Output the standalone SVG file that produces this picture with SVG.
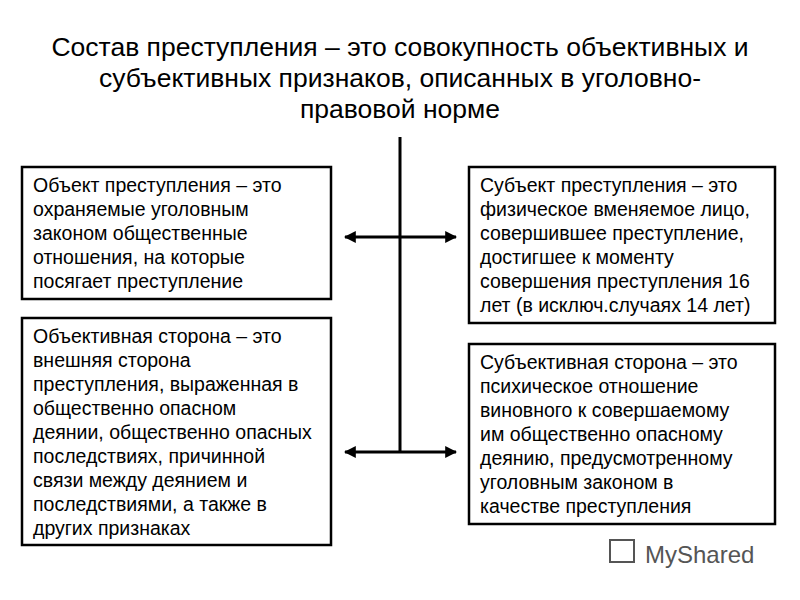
<svg xmlns="http://www.w3.org/2000/svg" width="800" height="600" viewBox="0 0 800 600">
<style>
text{font-family:"Liberation Sans",Arial,sans-serif;fill:#000}
.t{font-size:26.5px;text-anchor:middle}
.b{font-size:19.5px}
rect{fill:#fff;stroke:#000;stroke-width:2.5}
line{stroke:#000;stroke-width:3}
</style>
<defs><marker id="a" viewBox="0 0 10 10" refX="9" refY="5" markerWidth="4" markerHeight="4" orient="auto-start-reverse"><path d="M0,0L10,5L0,10z" fill="#000"/></marker></defs>
<g id="title"><text class="t" x="400" y="56">Состав преступления – это совокупность объективных и</text><text class="t" x="400" y="87">субъективных признаков, описанных в уголовно-</text><text class="t" x="400" y="118">правовой норме</text></g>
<g id="connectors">
<line x1="400" y1="137" x2="400" y2="452"/>
<line x1="345" y1="237" x2="456" y2="237" marker-start="url(#a)" marker-end="url(#a)"/>
<line x1="345" y1="452" x2="456" y2="452" marker-start="url(#a)" marker-end="url(#a)"/>
</g>
<g id="object"><rect x="22" y="167" width="309" height="132"/><text class="b" x="33" y="192">Объект преступления – это</text><text class="b" x="33" y="216">охраняемые уголовным</text><text class="b" x="33" y="240">законом общественные</text><text class="b" x="33" y="264">отношения, на которые</text><text class="b" x="33" y="288">посягает преступление</text></g>
<g id="subject"><rect x="469" y="167" width="306" height="156"/><text class="b" x="480" y="192">Субъект преступления – это</text><text class="b" x="480" y="216">физическое вменяемое лицо,</text><text class="b" x="480" y="240">совершившее преступление,</text><text class="b" x="480" y="264">достигшее к моменту</text><text class="b" x="480" y="288">совершения преступления 16</text><text class="b" x="480" y="312">лет (в исключ.случаях 14 лет)</text></g>
<g id="objside"><rect x="22" y="318" width="309" height="227"/><text class="b" x="33" y="343">Объективная сторона – это</text><text class="b" x="33" y="367">внешняя сторона</text><text class="b" x="33" y="391">преступления, выраженная в</text><text class="b" x="33" y="415">общественно опасном</text><text class="b" x="33" y="439">деянии, общественно опасных</text><text class="b" x="33" y="463">последствиях, причинной</text><text class="b" x="33" y="487">связи между деянием и</text><text class="b" x="33" y="511">последствиями, а также в</text><text class="b" x="33" y="535">других признаках</text></g>
<g id="subjside"><rect x="469" y="344" width="306" height="180"/><text class="b" x="480" y="369">Субъективная сторона – это</text><text class="b" x="480" y="393">психическое отношение</text><text class="b" x="480" y="417">виновного к совершаемому</text><text class="b" x="480" y="441">им общественно опасному</text><text class="b" x="480" y="465">деянию, предусмотренному</text><text class="b" x="480" y="489">уголовным законом в</text><text class="b" x="480" y="513">качестве преступления</text></g>
<g id="logo"><rect x="610" y="540" width="24" height="22" style="stroke:#555;stroke-width:2;fill:none"/><text x="645" y="563" style="font-size:24px;fill:#555">MyShared</text></g>
</svg>
